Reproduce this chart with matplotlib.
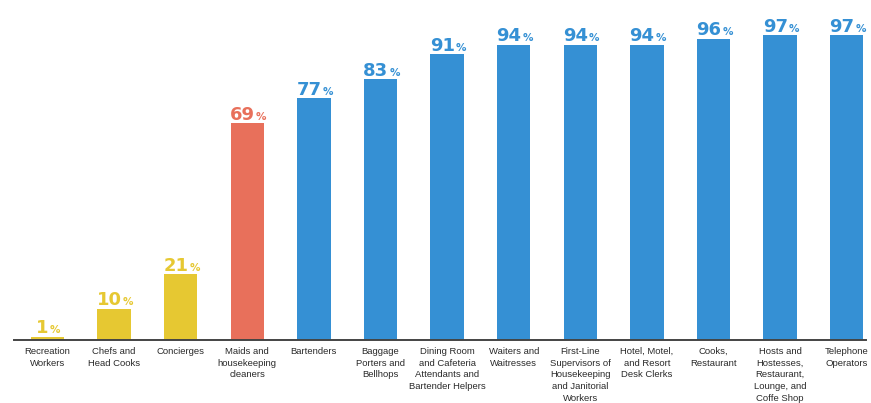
import matplotlib
matplotlib.use("Agg")
import matplotlib.pyplot as plt

categories = [
    "Recreation\nWorkers",
    "Chefs and\nHead Cooks",
    "Concierges",
    "Maids and\nhousekeeping\ncleaners",
    "Bartenders",
    "Baggage\nPorters and\nBellhops",
    "Dining Room\nand Cafeteria\nAttendants and\nBartender Helpers",
    "Waiters and\nWaitresses",
    "First-Line\nSupervisors of\nHousekeeping\nand Janitorial\nWorkers",
    "Hotel, Motel,\nand Resort\nDesk Clerks",
    "Cooks,\nRestaurant",
    "Hosts and\nHostesses,\nRestaurant,\nLounge, and\nCoffe Shop",
    "Telephone\nOperators",
]
values = [1, 10, 21, 69, 77, 83, 91, 94, 94, 94, 96, 97, 97]
groups = ["low", "low", "low", "mid", "high", "high", "high", "high", "high", "high", "high", "high", "high"]
palette = {"low": "#E6C832", "mid": "#E8705B", "high": "#3590D4"}

fig = plt.figure(figsize=(8.71, 4.03), dpi=100)
ax = fig.add_axes([14 / 871, 63 / 403, (866 - 14) / 871, 314 / 403])

x = list(range(len(values)))
colors = [palette[g] for g in groups]
ax.bar(x, values, width=0.5, color=colors, zorder=2)
ax.set_xlim(-0.503, 12.29)
ax.set_ylim(0, 100)

for s in ["top", "right", "left"]:
    ax.spines[s].set_visible(False)
ax.spines["bottom"].set_color("#444444")
ax.spines["bottom"].set_linewidth(1.4)
ax.set_yticks([])
ax.set_xticks(x)
ax.set_xticklabels(categories, fontsize=6.8, color="#2a2a2a", family="Liberation Sans", linespacing=1.38)
ax.tick_params(axis="x", length=0, pad=5)

fig.canvas.draw()
renderer = fig.canvas.get_renderer()
inv = ax.transData.inverted()
for xi, v, c in zip(x, values, colors):
    t = ax.annotate(str(v), (xi, v), xytext=(-3.5, 2.5), textcoords="offset points",
                    ha="center", va="baseline", fontsize=13, fontweight="bold", color=c,
                    family="DejaVu Sans")
    bb = t.get_window_extent(renderer)
    xr, _ = inv.transform((bb.x1, bb.y0))
    ax.annotate("%", (xr, v), xytext=(0.8, 2.5), textcoords="offset points",
                ha="left", va="baseline", fontsize=7.5, fontweight="bold", color=c,
                family="DejaVu Sans")

fig.savefig("out.png", dpi=100)
